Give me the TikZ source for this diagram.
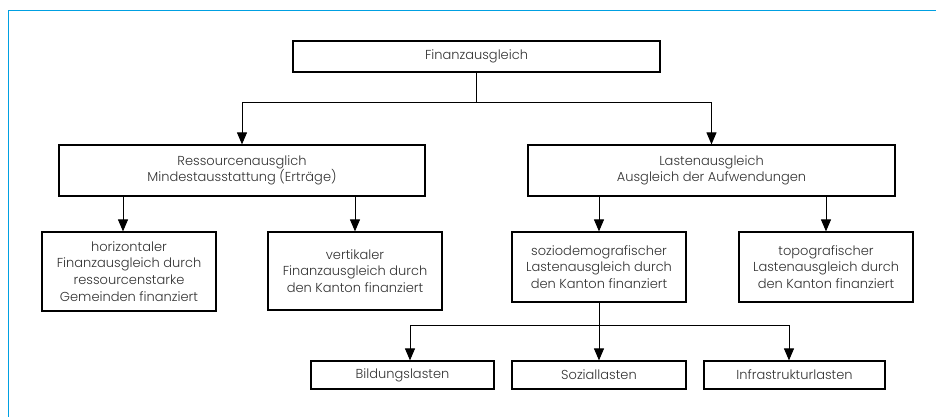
\documentclass[tikz,border=0pt]{standalone}
\usepackage{fontspec}
\setmainfont{Poppins}[UprightFont=* Light]
\usepackage{xcolor}
\usetikzlibrary{arrows.meta,positioning}
\definecolor{rahmen}{RGB}{0,160,226}
\definecolor{schrift}{RGB}{50,50,50}
\tikzset{
  kasten/.style={draw=black,line width=1.2pt,align=center,inner sep=2pt,
    text=schrift,font=\fontsize{13}{16.7}\selectfont},
  pfeil/.style={-{Triangle[width=10pt,length=12pt]},line width=1pt},
  linie/.style={line width=1pt}
}
\begin{document}
\begin{tikzpicture}[x=1pt,y=-1pt]
\useasboundingbox (0,0) rectangle (936,417);
\draw[rahmen,line width=1.6pt] (8.5,417) -- (8.5,10.5) -- (936,10.5);
% erste Ebene
\node[kasten,minimum width=367,minimum height=31] (fin) at (476.5,56.5) {Finanzausgleich};
\node[kasten,minimum width=366,minimum height=51] (res) at (242,170.5) {Ressourcenausglich\\Mindestausstattung (Erträge)};
\node[kasten,minimum width=367,minimum height=51] (last) at (711.5,170.5) {Lastenausgleich\\Ausgleich der Aufwendungen};
% zweite Ebene
\node[kasten,minimum width=174,minimum height=79] (hor) at (129,271.5) {horizontaler\\Finanzausgleich durch\\ressourcenstarke\\Gemeinden finanziert};
\node[kasten,minimum width=174,minimum height=78] (ver) at (355,271) {vertikaler\\Finanzausgleich durch\\den Kanton finanziert};
\node[kasten,minimum width=174,minimum height=70] (soz) at (599,267) {soziodemografischer\\Lastenausgleich durch\\den Kanton finanziert};
\node[kasten,minimum width=174,minimum height=70] (topo) at (826,267) {topografischer\\Lastenausgleich durch\\den Kanton finanziert};
% dritte Ebene
\node[kasten,minimum width=183,minimum height=28] (bild) at (402.5,375) {Bildungslasten};
\node[kasten,minimum width=174,minimum height=28] (sozl) at (599,375) {Soziallasten};
\node[kasten,minimum width=181,minimum height=28] (infra) at (794.5,375) {Infrastrukturlasten};
% Verbindungen
\coordinate (k1) at (476.5,103);
\draw[linie] (fin.south) -- (k1);
\draw[pfeil] (k1) -| (res.north);
\draw[pfeil] (k1) -| (last.north);
\draw[pfeil] ([xshift=-6]res.south -| hor.north) -- ([xshift=-6]hor.north);
\draw[pfeil] (res.south -| ver.north) -- (ver.north);
\draw[pfeil] (last.south -| soz.north) -- (soz.north);
\draw[pfeil] (last.south -| topo.north) -- (topo.north);
\coordinate (k2) at (599,325);
\draw[pfeil] (soz.south) -- (sozl.north);
\draw[pfeil] (k2) -| ([xshift=7.5]bild.north);
\draw[pfeil] (k2) -| ([xshift=-5.5]infra.north);
\end{tikzpicture}
\end{document}
